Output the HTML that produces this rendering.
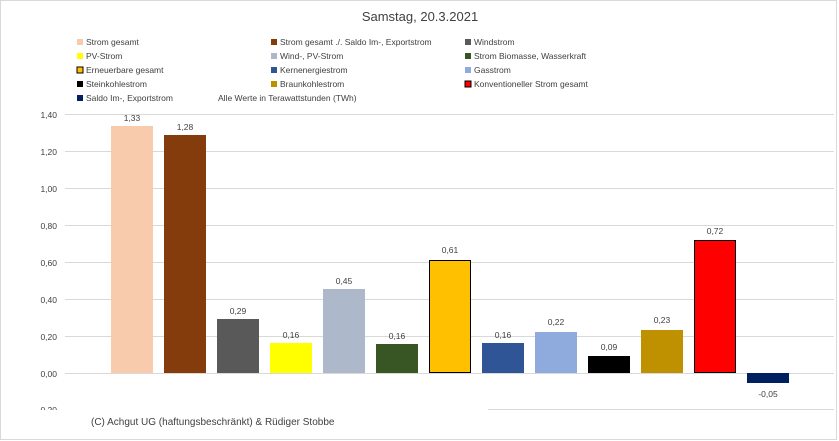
<!DOCTYPE html>
<html><head><meta charset="utf-8"><style>
body{margin:0;background:#fff;}
svg{display:block;font-family:"Liberation Sans",sans-serif;}
</style></head><body>
<svg width="839" height="441" viewBox="0 0 839 441" xmlns="http://www.w3.org/2000/svg">
<rect x="0.5" y="0.5" width="836" height="439" fill="#fff" stroke="#d9d9d9"/>
<text x="420" y="21" font-size="13" fill="#404040" text-anchor="middle">Samstag, 20.3.2021</text>
<g font-size="8.5" fill="#404040">
<rect x="77" y="39" width="6" height="6" fill="#F8CBAD"/><text x="86" y="45">Strom gesamt</text>
<rect x="77" y="53" width="6" height="6" fill="#FFFF00"/><text x="86" y="59">PV-Strom</text>
<rect x="77" y="67" width="6" height="6" fill="#FFC000" stroke="#000"/><text x="86" y="73">Erneuerbare gesamt</text>
<rect x="77" y="81" width="6" height="6" fill="#000"/><text x="86" y="87">Steinkohlestrom</text>
<rect x="77" y="95" width="6" height="6" fill="#002060"/><text x="86" y="101">Saldo Im-, Exportstrom</text>
<text x="218" y="101">Alle Werte in Terawattstunden (TWh)</text>
<rect x="271" y="39" width="6" height="6" fill="#843C0C"/><text x="280" y="45">Strom gesamt ./. Saldo Im-, Exportstrom</text>
<rect x="271" y="53" width="6" height="6" fill="#ADB9CA"/><text x="280" y="59">Wind-, PV-Strom</text>
<rect x="271" y="67" width="6" height="6" fill="#2F5597"/><text x="280" y="73">Kernenergiestrom</text>
<rect x="271" y="81" width="6" height="6" fill="#BF9000"/><text x="280" y="87">Braunkohlestrom</text>
<rect x="465" y="39" width="6" height="6" fill="#595959"/><text x="474" y="45">Windstrom</text>
<rect x="465" y="53" width="6" height="6" fill="#375623"/><text x="474" y="59">Strom Biomasse, Wasserkraft</text>
<rect x="465" y="67" width="6" height="6" fill="#8FAADC"/><text x="474" y="73">Gasstrom</text>
<rect x="465" y="81" width="6" height="6" fill="#FF0000" stroke="#000"/><text x="474" y="87">Konventioneller Strom gesamt</text>
</g>
<g stroke="#d9d9d9" stroke-width="1">
<line x1="65" x2="834" y1="114.5" y2="114.5"/>
<line x1="65" x2="834" y1="151.5" y2="151.5"/>
<line x1="65" x2="834" y1="188.5" y2="188.5"/>
<line x1="65" x2="834" y1="225.5" y2="225.5"/>
<line x1="65" x2="834" y1="262.5" y2="262.5"/>
<line x1="65" x2="834" y1="299.5" y2="299.5"/>
<line x1="65" x2="834" y1="336.5" y2="336.5"/>
<line x1="65" x2="834" y1="373.5" y2="373.5"/>
<line x1="488" x2="834" y1="409.5" y2="409.5"/>
</g>
<g font-size="8.5" fill="#404040" text-anchor="end">
<text x="57" y="118">1,40</text><text x="57" y="155">1,20</text><text x="57" y="192">1,00</text>
<text x="57" y="229">0,80</text><text x="57" y="266">0,60</text><text x="57" y="303">0,40</text>
<text x="57" y="340">0,20</text><text x="57" y="377">0,00</text><text x="57" y="413">-0,20</text>
</g>
<g>
<rect x="111" y="126" width="42" height="247" fill="#F8CBAD"/>
<rect x="164" y="135" width="42" height="238" fill="#843C0C"/>
<rect x="217" y="319" width="42" height="54" fill="#595959"/>
<rect x="270" y="343" width="42" height="30" fill="#FFFF00"/>
<rect x="323" y="289" width="42" height="84" fill="#ADB9CA"/>
<rect x="376" y="344" width="42" height="29" fill="#375623"/>
<rect x="429.5" y="260.5" width="41" height="112" fill="#FFC000" stroke="#000"/>
<rect x="482" y="343" width="42" height="30" fill="#2F5597"/>
<rect x="535" y="332" width="42" height="41" fill="#8FAADC"/>
<rect x="588" y="356" width="42" height="17" fill="#000"/>
<rect x="641" y="330" width="42" height="43" fill="#BF9000"/>
<rect x="694.5" y="240.5" width="41" height="132" fill="#FF0000" stroke="#000"/>
<rect x="747" y="373" width="42" height="10" fill="#002060"/>
</g>
<g font-size="8.5" fill="#404040" text-anchor="middle">
<text x="132" y="121">1,33</text><text x="185" y="130">1,28</text><text x="238" y="314">0,29</text>
<text x="291" y="338">0,16</text><text x="344" y="284">0,45</text><text x="397" y="339">0,16</text>
<text x="450" y="253">0,61</text><text x="503" y="338">0,16</text><text x="556" y="325">0,22</text>
<text x="609" y="350">0,09</text><text x="662" y="323">0,23</text><text x="715" y="234">0,72</text>
<text x="768" y="397">-0,05</text>
</g>
<rect x="2" y="410" width="486" height="28" fill="#fff"/>
<text x="91" y="425" font-size="10" fill="#404040">(C) Achgut UG (haftungsbeschränkt) &amp; Rüdiger Stobbe</text>
</svg>
</body></html>
